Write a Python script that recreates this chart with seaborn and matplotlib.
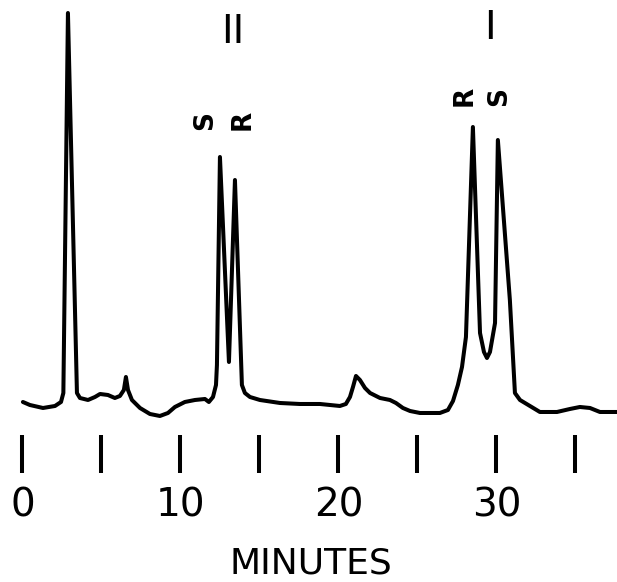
import matplotlib
matplotlib.use("Agg")
import matplotlib.pyplot as plt
import seaborn as sns
import pandas as pd

sns.set_theme(style="white", context="notebook")
plt.rcParams['font.family'] = ['DejaVu Sans']
plt.rcParams['text.color'] = 'black'
plt.rcParams['xtick.color'] = 'black'

# chromatogram trace (minutes, detector response)
minutes = [0.03, 0.47, 1.30, 2.06, 2.44, 2.59, 2.88, 3.45, 3.64, 4.15,
           4.59, 4.91, 5.41, 5.85, 6.17, 6.42, 6.55, 6.68, 6.93, 7.44,
           8.07, 8.70, 9.21, 9.65, 10.28, 10.92, 11.55, 11.80, 12.06, 12.25,
           12.31, 12.50, 13.07, 13.45, 13.89, 14.08, 14.40, 15.03, 16.30, 17.56,
           18.83, 20.09, 20.47, 20.73, 20.92, 21.11, 21.36, 21.68, 22.00, 22.63,
           23.26, 23.64, 24.08, 24.53, 25.16, 26.42, 26.93, 27.25, 27.56, 27.82,
           28.07, 28.51, 28.96, 29.21, 29.40, 29.59, 29.91, 30.09, 30.85, 31.17,
           31.49, 32.12, 32.75, 33.83, 34.65, 35.28, 35.92, 36.55, 37.63]
response = [4.5, 3.75, 3.0, 3.5, 4.5, 6.75, 101.75, 6.75, 5.5, 5.0,
            5.75, 6.5, 6.25, 5.5, 6.0, 7.5, 10.75, 7.5, 5.0, 3.0,
            1.5, 1.0, 1.75, 3.25, 4.5, 5.0, 5.25, 4.5, 5.75, 8.75,
            13.75, 65.75, 14.5, 60.0, 8.75, 6.75, 5.75, 5.0, 4.25, 4.0,
            4.0, 3.5, 4.0, 5.75, 8.25, 11.0, 10.0, 8.0, 6.75, 5.5,
            5.0, 4.25, 3.0, 2.25, 1.75, 1.75, 2.5, 4.75, 8.75, 13.25,
            20.75, 73.25, 21.75, 17.0, 15.5, 17.0, 24.25, 70.0, 30.0, 6.75,
            5.0, 3.5, 2.0, 2.0, 2.75, 3.25, 3.0, 2.0, 2.0]

# peak labels
enantiomer_labels = ['S', 'R', 'R', 'S']
enantiomer_times = [11.55, 13.95, 28.0, 30.2]
enantiomer_y = [74.75, 75.0, 81.0, 80.75]
compound_labels = ['II', 'I']
compound_times = [13.3, 29.6]
compound_y = [97.0, 98.0]

major_ticks = [0, 10, 20, 30]
minor_ticks = [5, 15, 25, 35]

df = pd.DataFrame({'minutes': minutes, 'response': response})

fig = plt.figure(figsize=(6.17, 5.82), dpi=100)
ax = fig.add_axes([0, 0.2526, 1, 0.7474])

sns.lineplot(data=df, x='minutes', y='response', color='black',
             linewidth=2.9, estimator=None, ax=ax)

for lab, t, y in zip(enantiomer_labels, enantiomer_times, enantiomer_y):
    ax.text(t, y, lab, rotation=90, ha='center', va='center',
            fontsize=19, fontweight='bold', color='black')
for lab, t, y in zip(compound_labels, compound_times, compound_y):
    ax.text(t, y, lab, ha='center', va='center', fontsize=28, color='black')

ax.set_xlim(-1.42, 37.63)
ax.set_ylim(-3.75, 105)
ax.set_xticks(major_ticks)
ax.set_xticklabels([str(t) for t in major_ticks], fontsize=28, color='black')
ax.set_xticks(minor_ticks, minor=True)
ax.tick_params(axis='x', which='both', direction='out', length=27,
               width=2.9, color='black', bottom=True, pad=10)
ax.set_yticks([])
ax.set_xlabel('')
ax.set_ylabel('')
for s in ax.spines.values():
    s.set_visible(False)

fig.text(311 / 617, 1 - 563 / 582, 'MINUTES', ha='center', va='center',
         fontsize=26, color='black')

plt.savefig('out.png', dpi=100)
